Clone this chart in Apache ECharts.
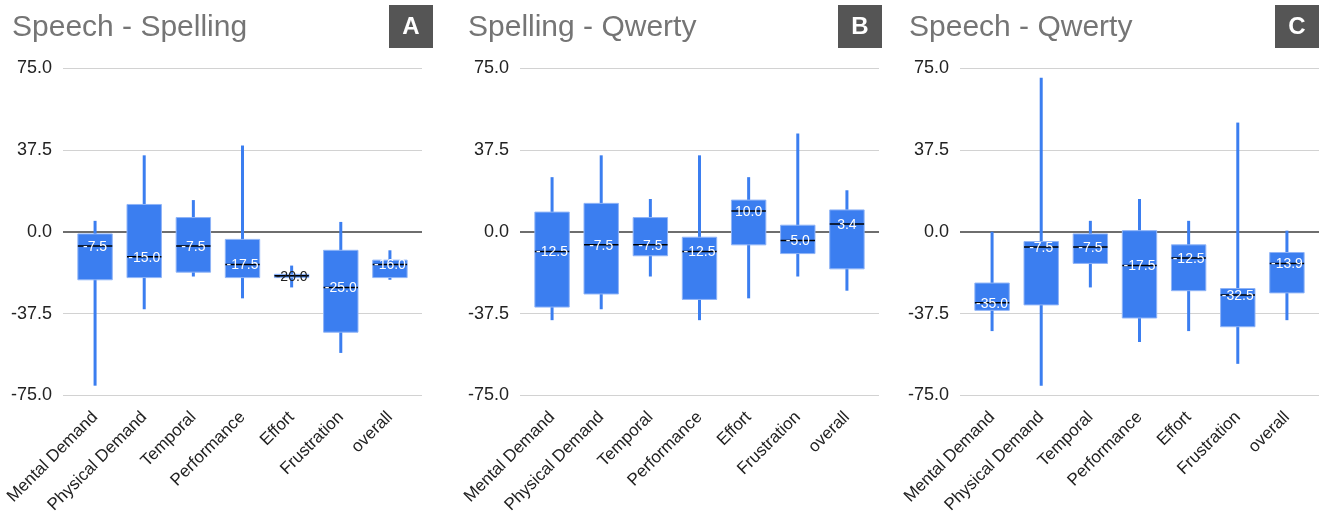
<!DOCTYPE html>
<html>
<head>
<meta charset="utf-8">
<script src="https://cdn.jsdelivr.net/npm/echarts@6/dist/echarts.min.js"></script>
<style>
html,body{margin:0;padding:0;background:#fff;}
#chart{width:1323px;height:523px;}
</style>
</head>
<body>
<div id="chart"></div>
<script>
// ---- data ----
const categories = ['Mental Demand', 'Physical Demand', 'Temporal', 'Performance', 'Effort', 'Frustration', 'overall'];
const panelTitles = ['Speech - Spelling', 'Spelling - Qwerty', 'Speech - Qwerty'];
const panelTags = ['A', 'B', 'C'];
const yMin = -75, yMax = 75, yInterval = 37.5;

// Panel A: Speech - Spelling
const aHigh   = [5, 35, 14.5, 39.5, -15.5, 4.5, -8.5];
const aQ3     = [-1, 12.5, 6.5, -3.5, -19.5, -8.5, -13];
const aMedian = [-6.5, -11.5, -6.5, -15, -20.2, -25.5, -15];
const aQ1     = [-22, -21, -18.5, -21, -21, -46, -21];
const aLow    = [-70.5, -35.5, -20.5, -30.5, -25.5, -55.5, -22];
const aLabels = ['-7.5', '-15.0', '-7.5', '-17.5', '-20.0', '-25.0', '-16.0'];

// Panel B: Spelling - Qwerty
const bHigh   = [25, 35, 15, 35, 25, 45, 19];
const bQ3     = [9, 13, 6.5, -2.5, 14.5, 3, 10];
const bMedian = [-9, -6, -6, -9, 9.5, -4, 3.5];
const bQ1     = [-34.5, -28.5, -11, -31, -6, -10, -17];
const bLow    = [-40.5, -35.5, -20.5, -40.5, -30.5, -20.5, -27];
const bLabels = ['-12.5', '-7.5', '-7.5', '-12.5', '10.0', '-5.0', '3.4'];

// Panel C: Speech - Qwerty
const cHigh   = [0, 70.5, 5, 15, 5, 50, 0.5];
const cQ3     = [-23.5, -4.5, -1, 0.5, -6, -26, -9.5];
const cMedian = [-32.5, -7, -7, -15.5, -12, -29, -14.5];
const cQ1     = [-36, -33.5, -14.5, -39.5, -27, -43.5, -28];
const cLow    = [-45.5, -70.5, -25.5, -50.5, -45.5, -60.5, -40.5];
const cLabels = ['-35.0', '-7.5', '-7.5', '-17.5', '-12.5', '-32.5', '-13.9'];

const panels = [
  {high: aHigh, q3: aQ3, med: aMedian, q1: aQ1, low: aLow, labels: aLabels},
  {high: bHigh, q3: bQ3, med: bMedian, q1: bQ1, low: bLow, labels: bLabels},
  {high: cHigh, q3: cQ3, med: cMedian, q1: cQ1, low: cLow, labels: cLabels}
];

// ---- layout / style ----
const FONT = '"Liberation Sans", Arial, sans-serif';
const gridStarts = [63, 520, 960];
const gridWidth = 359;
const bandInset = 7.5;
const gridTop = 68;
const gridHeight = 327.5;
const titleLefts = [7, 463, 904];
const tagLefts = [389, 838, 1275];
const BLUE = '#3b7ef0';

const chart = echarts.init(document.getElementById('chart'), null, {renderer: 'canvas'});

const grids = [], xAxes = [], yAxes = [], series = [], titles = [], graphics = [];

panels.forEach((p, i) => {
  const bgIdx = i * 2, fgIdx = i * 2 + 1;
  grids.push({left: gridStarts[i], top: gridTop, width: gridWidth, height: gridHeight, containLabel: false});
  grids.push({left: gridStarts[i] + bandInset, top: gridTop, width: gridWidth - 2 * bandInset, height: gridHeight, containLabel: false});

  xAxes.push({gridIndex: bgIdx, type: 'value', min: 0, max: 1, show: false});
  xAxes.push({
    gridIndex: fgIdx, type: 'category', data: categories, boundaryGap: true,
    axisLine: {show: false}, axisTick: {show: false},
    axisLabel: {rotate: 45, interval: 0, fontSize: 17, color: '#222', margin: 19, fontFamily: FONT}
  });
  yAxes.push({
    gridIndex: bgIdx, type: 'value', min: yMin, max: yMax, interval: yInterval,
    axisLine: {show: false}, axisTick: {show: false},
    axisLabel: {fontSize: 18, color: '#222', margin: 11, fontFamily: FONT, formatter: v => v.toFixed(1)},
    splitLine: {lineStyle: {color: '#d2d2d2', width: 1}}
  });
  yAxes.push({gridIndex: fgIdx, type: 'value', min: yMin, max: yMax, show: false, splitLine: {show: false}});

  series.push({
    type: 'line', xAxisIndex: bgIdx, yAxisIndex: bgIdx, data: [], silent: true,
    markLine: {
      silent: true, symbol: 'none', animation: false,
      label: {show: false},
      lineStyle: {color: '#6e6e6e', width: 2, type: 'solid'},
      data: [{yAxis: 0}]
    }
  });

  const data = categories.map((c, k) => [k, p.high[k], p.q3[k], p.med[k], p.q1[k], p.low[k]]);
  series.push({
    type: 'custom', xAxisIndex: fgIdx, yAxisIndex: fgIdx, data: data, animation: false, z: 5,
    renderItem: (params, api) => {
      const x = api.value(0);
      const pHi = api.coord([x, api.value(1)]);
      const pQ3 = api.coord([x, api.value(2)]);
      const pMed = api.coord([x, api.value(3)]);
      const pQ1 = api.coord([x, api.value(4)]);
      const pLo = api.coord([x, api.value(5)]);
      const bw = api.size([1, 0])[0] * 0.70;
      const cx = pHi[0];
      const boxH = pQ1[1] - pQ3[1];
      const lbl = p.labels[params.dataIndex];
      return {
        type: 'group',
        children: [
          {type: 'line', shape: {x1: cx, y1: pHi[1], x2: cx, y2: pLo[1]}, style: {stroke: BLUE, lineWidth: 3}},
          {type: 'rect', shape: {x: cx - bw / 2, y: pQ3[1], width: bw, height: boxH},
           style: {fill: BLUE, stroke: '#8fb4f7', lineWidth: 1}},
          {type: 'line', shape: {x1: cx - bw / 2, y1: pMed[1], x2: cx + bw / 2, y2: pMed[1]}, style: {stroke: '#000', lineWidth: 1.5}},
          {type: 'text', x: cx, y: pMed[1] + 1,
           style: {text: lbl, fill: boxH < 12 ? '#222' : '#fff', fontSize: 14, fontFamily: FONT,
                   align: 'center', verticalAlign: 'middle'}}
        ]
      };
    }
  });

  titles.push({
    text: panelTitles[i], left: titleLefts[i], top: 8,
    textStyle: {fontSize: 30, color: '#757575', fontWeight: 'normal', fontFamily: FONT}
  });

  graphics.push({
    type: 'group', left: tagLefts[i], top: 5,
    children: [
      {type: 'rect', shape: {x: 0, y: 0, width: 44, height: 43}, style: {fill: '#555555'}},
      {type: 'text', x: 22, y: 22, style: {text: panelTags[i], fill: '#fff', fontSize: 24, fontWeight: 'bold',
        fontFamily: FONT, align: 'center', verticalAlign: 'middle'}}
    ]
  });
});

chart.setOption({
  animation: false,
  backgroundColor: '#fff',
  textStyle: {fontFamily: FONT},
  title: titles,
  grid: grids,
  xAxis: xAxes,
  yAxis: yAxes,
  series: series,
  graphic: graphics
});
</script>
</body>
</html>
